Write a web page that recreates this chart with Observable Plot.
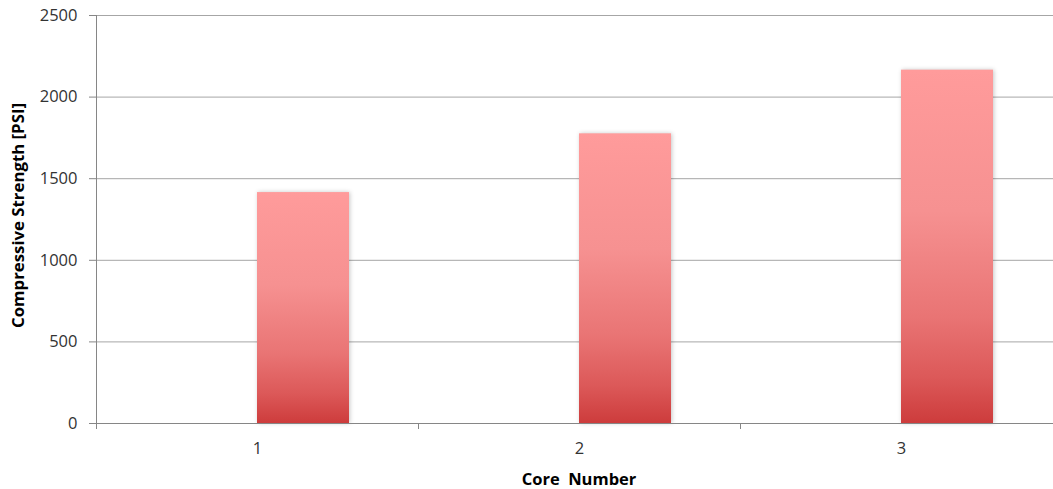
<!DOCTYPE html>
<html>
<head>
<meta charset="utf-8">
<script src="https://cdn.jsdelivr.net/npm/d3@7"></script>
<script src="https://cdn.jsdelivr.net/npm/@observablehq/plot@0.6"></script>
<style>
  html, body { margin: 0; padding: 0; background: #fff; overflow: hidden; }
</style>
</head>
<body>
<div id="chart"></div>
<script>
// Compressive strength of each test core
const cores = [1, 2, 3];
const strength = [1415, 1775, 2165];
const yTicks = [0, 500, 1000, 1500, 2000, 2500];
const categoryEdges = [0.5, 1.5, 2.5, 3.5];
const xTitle = "Core  Number";
const yTitle = "Compressive Strength [PSI]";

const rows = cores.map((c, i) => ({core: c, value: strength[i]}));

// Each bar takes the right-hand slot of its category (gap width 150%, two slots)
const slot = 1 / 3.5;

const font = "'Open Sans', sans-serif";
const axisGray = "#868686";
const plain = (d) => String(d);

const chart = Plot.plot({
  width: 1053,
  height: 489,
  marginLeft: 96,
  marginRight: 0,
  marginTop: 15,
  marginBottom: 66,
  style: {fontFamily: font, fontSize: "16px", background: "#fff", overflow: "hidden"},
  x: {domain: [0.5, 3.5], range: [96, 1062], axis: null},
  y: {domain: [0, 2500], range: [423, 15], axis: null},
  marks: [
    Plot.ruleY(yTicks.filter((d) => d > 0), {x1: 0.5, x2: 3.5, stroke: "#a6a6a6", strokeWidth: 1}),
    Plot.rectY(rows, {
      x1: "core",
      x2: (d) => d.core + slot,
      y1: 0,
      y2: "value",
      fill: "url(#barGradient)"
    }),
    Plot.ruleY([0], {x1: 0.5, x2: 3.5, stroke: axisGray}),
    Plot.ruleX([0.5], {y1: 0, y2: 2500, stroke: axisGray}),
    Plot.axisY({
      ticks: yTicks,
      tickFormat: plain,
      tickSize: 7,
      tickPadding: 12,
      stroke: axisGray,
      fill: "#333333",
      fontSize: 16.5,
      label: null
    }),
    Plot.axisX({
      ticks: categoryEdges,
      tickSize: 6,
      tickFormat: () => "",
      stroke: axisGray,
      label: null
    }),
    Plot.axisX({
      ticks: cores,
      tickFormat: plain,
      tickSize: 0,
      tickPadding: 19,
      fill: "#333333",
      fontSize: 16.5,
      label: null
    }),
    Plot.text([yTitle], {
      frameAnchor: "left",
      textAnchor: "middle",
      lineAnchor: "middle",
      dx: -78,
      dy: -4,
      rotate: -90,
      fontWeight: "bold",
      fontSize: 16.8,
      fill: "#000"
    }),
    Plot.text([xTitle], {
      frameAnchor: "bottom",
      lineAnchor: "middle",
      dx: 4,
      dy: 56,
      fontWeight: "bold",
      fontSize: 16.5,
      fill: "#000"
    })
  ]
});

// Vertical light-to-dark red gradient, applied to each bar's own box
const defs = d3.select(chart).insert("defs", ":first-child");
const grad = defs.append("linearGradient")
  .attr("id", "barGradient")
  .attr("x1", 0).attr("y1", 0)
  .attr("x2", 0).attr("y2", 1);
[
  [0, "#ff9b9b"],
  [0.4, "#f69191"],
  [0.7, "#e97474"],
  [0.87, "#dc5959"],
  [1, "#cd3c3c"]
].forEach(([o, c]) => grad.append("stop").attr("offset", o).attr("stop-color", c));

d3.select(chart).selectAll("g[aria-label='rect'] rect")
  .style("filter", "drop-shadow(1px 0px 2px rgba(0,0,0,0.22))");

document.getElementById("chart").appendChild(chart);
</script>
</body>
</html>
